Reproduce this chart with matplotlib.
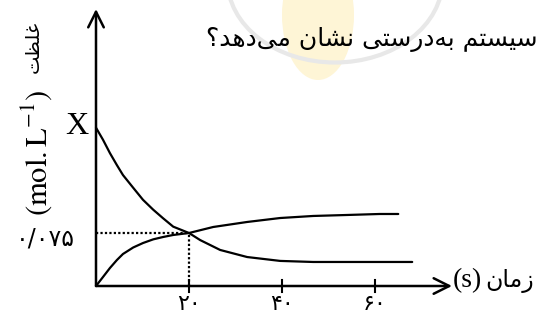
import matplotlib
matplotlib.use("Agg")
import matplotlib.pyplot as plt
from matplotlib.patches import Ellipse, Arc

plt.rcParams["mathtext.fontset"] = "stix"

# ---- data ----
reactant_t = [0, 1.5, 3.0, 4.5, 5.8, 8.0, 10.1, 12.3, 14.4, 16.6, 20,
              22.4, 26.7, 32.5, 39.6, 46.7, 54, 61, 68]
reactant_c = [0.224, 0.207, 0.188, 0.171, 0.157, 0.139, 0.122, 0.108, 0.096,
              0.084, 0.075, 0.065, 0.051, 0.041, 0.0355, 0.034, 0.034, 0.034,
              0.034]
product_t = [0, 1.5, 3.0, 4.5, 5.8, 8.0, 10.1, 12.3, 14.4, 16.6, 20,
             25.2, 32.5, 39.6, 46.7, 54, 61, 65]
product_c = [0.0, 0.0127, 0.0255, 0.0368, 0.0453, 0.0545, 0.0608, 0.0660,
             0.0693, 0.0722, 0.075, 0.0835, 0.0906, 0.0962, 0.0991, 0.1005,
             0.1019, 0.1019]
cross_t = 20
cross_c = 0.075
x_ticks = [20, 40, 60]
x_tick_labels = ["\u06F2\u06F0", "\u06F4\u06F0", "\u06F6\u06F0"]
y_label_value = "\u06F0/\u06F0\u06F7\u06F5"
x_start_label = "X"

# Persian text, pre-shaped (presentation forms, visual order)
fa_zaman = "\uFEE5\uFE8E\uFEE3\uFEAF"                 # زمان
fa_gholzat = "\uFE96\uFEC8\uFEE0\uFECF"               # غلظت
fa_sentence = ("\u061F\uFEAA\uFEEB\uFEA9\uFEF0\uFEE3 "  # می‌دهد؟
               "\uFEE5\uFE8E\uFEB8\uFEE7 "              # نشان
               "\uFEF0\uFE98\uFEB3\uFEAD\uFEA9\uFEEA\uFE91 "  # به‌درستی
               "\uFEE2\uFE98\uFEB4\uFEF4\uFEB3")        # سیستم

W, H = 541, 320
fig = plt.figure(figsize=(W / 100, H / 100), dpi=100)
fig.patch.set_facecolor("white")
ax = fig.add_axes([0, 0, 1, 1])
ax.axis("off")

# pixel mapping
X0, SX = 96, 4.65
Y0, SY = 286, 53 / 0.075
ax.set_xlim(-X0 / SX, (W - X0) / SX)
ax.set_ylim(-(H - Y0) / SY, Y0 / SY)

def px(x, y):
    return x / W, 1 - y / H

def d(xp, yp):
    return ((xp - X0) / SX, (Y0 - yp) / SY)

# watermark
ax.add_patch(Ellipse(d(318, 15), 72 / SX, 130 / SY, color="#fef5d6", zorder=0, lw=0))
ax.add_patch(Arc(d(335, -20), 215 / SX, 165 / SY, theta1=180, theta2=360,
                 color="#e8e8e8", lw=3, zorder=0))

# axes with open arrows
ax.annotate("", xy=d(452, Y0), xytext=(0, 0),
            arrowprops=dict(arrowstyle="->", lw=1.8, color="black",
                            mutation_scale=28, shrinkA=0, shrinkB=0))
ax.annotate("", xy=d(X0, 9), xytext=(0, 0),
            arrowprops=dict(arrowstyle="->", lw=1.8, color="black",
                            mutation_scale=28, shrinkA=0, shrinkB=0))

# ticks
for t in x_ticks:
    ax.plot([t, t], [-6 / SY, 6 / SY], color="black", lw=1.5)

# curves
ax.plot(reactant_t, reactant_c, color="black", lw=1.6, solid_capstyle="round",
        solid_joinstyle="round")
ax.plot(product_t, product_c, color="black", lw=1.6, solid_capstyle="round",
        solid_joinstyle="round")

# dotted guides
ax.plot([0, cross_t], [cross_c, cross_c], color="black", lw=1.6, ls=(0, (1, 1)))
ax.plot([cross_t, cross_t], [0, cross_c], color="black", lw=1.6, ls=(0, (1, 1)))

# texts
ax.text(*px(77, 127), x_start_label, transform=fig.transFigure, ha="center",
        va="center", fontsize=23, family="Liberation Serif")
ax.text(*px(45, 238), y_label_value, transform=fig.transFigure, ha="center",
        va="center", fontsize=17, family="DejaVu Sans")
for t, lab in zip(x_ticks, x_tick_labels):
    ax.text(t, (Y0 - 304) / SY, lab, ha="center", va="center", fontsize=16,
            family="DejaVu Sans")
ax.text(*px(467, 281), "(s)", transform=fig.transFigure, ha="center",
        va="center", fontsize=20, family="Liberation Serif")
ax.text(*px(510, 281), fa_zaman, transform=fig.transFigure, ha="center",
        va="center", fontsize=17, family="DejaVu Sans")
ax.text(*px(37, 153), r"$\mathrm{(mol.L^{-1})}$", transform=fig.transFigure,
        ha="center", va="center", fontsize=22, rotation=90)
ax.text(*px(33, 47), fa_gholzat, transform=fig.transFigure, ha="center",
        va="center", fontsize=14, family="DejaVu Sans", rotation=90)
ax.text(*px(538, 40), fa_sentence, transform=fig.transFigure, ha="right",
        va="center", fontsize=18, family="DejaVu Sans")

fig.savefig("out.png", dpi=100)
